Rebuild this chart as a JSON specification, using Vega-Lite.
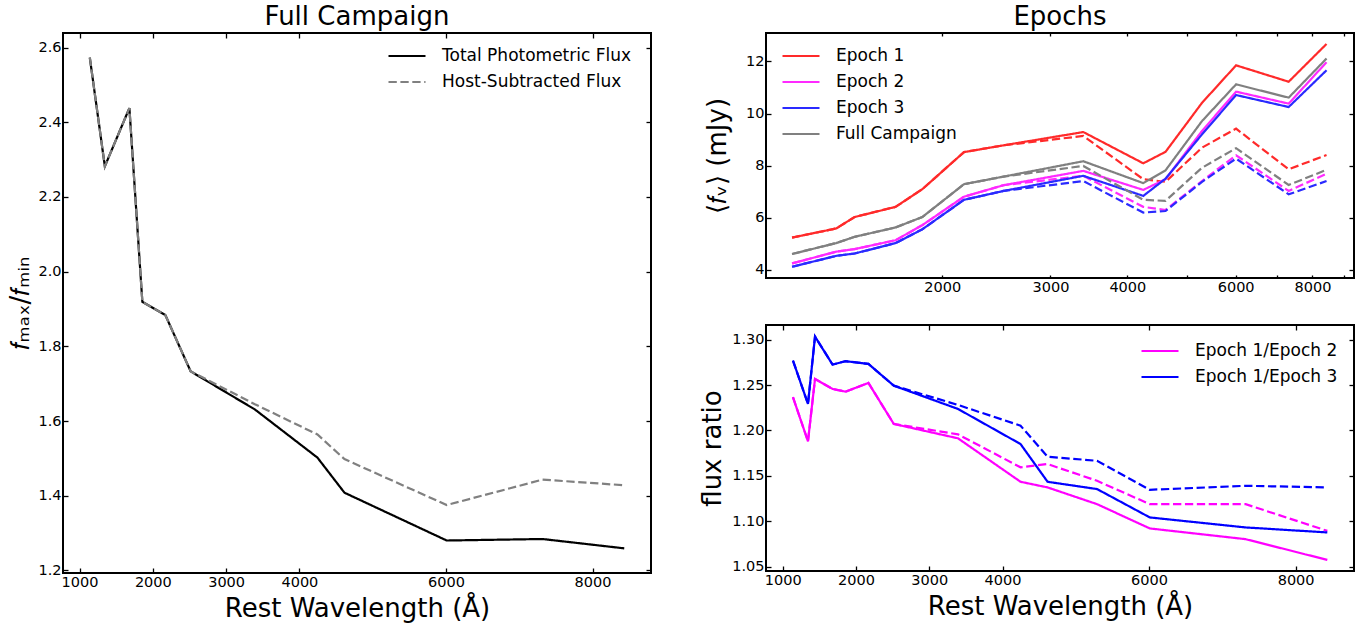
{
  "$schema": "https://vega.github.io/schema/vega-lite/v6.json",
  "padding": {"left": 6, "top": 3, "right": 0, "bottom": 0},
  "config": {
    "font": "DejaVu Sans",
    "view": {"stroke": "black", "strokeWidth": 2},
    "axis": {"domain": false, "grid": false, "ticks": true, "tickColor": "black", "tickWidth": 1.3, "tickSize": -5,
      "labelFont": "DejaVu Sans", "labelFontSize": 14.5, "labelColor": "black", "labelPadding": 7, "labelFlush": false, "labelOverlap": false,
      "titleFont": "DejaVu Sans", "titleFontSize": 26, "titleFontWeight": "normal", "titleColor": "black", "titlePadding": 4},
    "title": {"font": "DejaVu Sans", "fontSize": 26, "fontWeight": "normal", "color": "black", "frame": "group", "offset": 2},
    "legend": {"labelFont": "DejaVu Sans", "labelFontSize": 17, "labelColor": "black", "labelLimit": 0, "symbolSize": 1369, "symbolStrokeWidth": 2.2, "symbolType": "stroke", "labelOffset": 15, "clipHeight": 26, "rowPadding": 0, "padding": 0}
  },
  "resolve": {"scale": {"color": "independent", "strokeDash": "independent"}, "legend": {"color": "independent", "strokeDash": "independent"}},
  "datasets": {
    "full": [
      {"w":1140,"v":2.573,"s":"Total Photometric Flux"},{"w":1345,"v":2.282,"s":"Total Photometric Flux"},{"w":1680,"v":2.438,"s":"Total Photometric Flux"},{"w":1857,"v":1.919,"s":"Total Photometric Flux"},{"w":2170,"v":1.884,"s":"Total Photometric Flux"},{"w":2516,"v":1.733,"s":"Total Photometric Flux"},{"w":3392,"v":1.631,"s":"Total Photometric Flux"},{"w":4246,"v":1.502,"s":"Total Photometric Flux"},{"w":4615,"v":1.408,"s":"Total Photometric Flux"},{"w":6010,"v":1.280,"s":"Total Photometric Flux"},{"w":7318,"v":1.284,"s":"Total Photometric Flux"},{"w":8433,"v":1.259,"s":"Total Photometric Flux"},
      {"w":1140,"v":2.573,"s":"Host-Subtracted Flux"},{"w":1345,"v":2.282,"s":"Host-Subtracted Flux"},{"w":1680,"v":2.438,"s":"Host-Subtracted Flux"},{"w":1857,"v":1.919,"s":"Host-Subtracted Flux"},{"w":2170,"v":1.884,"s":"Host-Subtracted Flux"},{"w":2516,"v":1.733,"s":"Host-Subtracted Flux"},{"w":3392,"v":1.645,"s":"Host-Subtracted Flux"},{"w":4246,"v":1.564,"s":"Host-Subtracted Flux"},{"w":4615,"v":1.498,"s":"Host-Subtracted Flux"},{"w":6010,"v":1.375,"s":"Host-Subtracted Flux"},{"w":7318,"v":1.443,"s":"Host-Subtracted Flux"},{"w":8433,"v":1.428,"s":"Host-Subtracted Flux"}
    ],
    "epochs": [
      {"w":1140,"v":5.24,"s":"Epoch 1","k":"total"},{"w":1345,"v":5.59,"s":"Epoch 1","k":"total"},{"w":1441,"v":6.03,"s":"Epoch 1","k":"total"},{"w":1680,"v":6.42,"s":"Epoch 1","k":"total"},{"w":1857,"v":7.10,"s":"Epoch 1","k":"total"},{"w":2170,"v":8.52,"s":"Epoch 1","k":"total"},{"w":2516,"v":8.78,"s":"Epoch 1","k":"total"},{"w":3392,"v":9.29,"s":"Epoch 1","k":"total"},{"w":4246,"v":8.09,"s":"Epoch 1","k":"total"},{"w":4615,"v":8.53,"s":"Epoch 1","k":"total"},{"w":5290,"v":10.41,"s":"Epoch 1","k":"total"},{"w":6010,"v":11.85,"s":"Epoch 1","k":"total"},{"w":7318,"v":11.22,"s":"Epoch 1","k":"total"},{"w":8433,"v":12.67,"s":"Epoch 1","k":"total"},
      {"w":1140,"v":5.24,"s":"Epoch 1","k":"host"},{"w":1345,"v":5.59,"s":"Epoch 1","k":"host"},{"w":1441,"v":6.03,"s":"Epoch 1","k":"host"},{"w":1680,"v":6.42,"s":"Epoch 1","k":"host"},{"w":1857,"v":7.10,"s":"Epoch 1","k":"host"},{"w":2170,"v":8.52,"s":"Epoch 1","k":"host"},{"w":2516,"v":8.78,"s":"Epoch 1","k":"host"},{"w":3392,"v":9.14,"s":"Epoch 1","k":"host"},{"w":4246,"v":7.48,"s":"Epoch 1","k":"host"},{"w":4615,"v":7.38,"s":"Epoch 1","k":"host"},{"w":5290,"v":8.69,"s":"Epoch 1","k":"host"},{"w":6010,"v":9.42,"s":"Epoch 1","k":"host"},{"w":7318,"v":7.86,"s":"Epoch 1","k":"host"},{"w":8433,"v":8.41,"s":"Epoch 1","k":"host"},
      {"w":1140,"v":4.25,"s":"Epoch 2","k":"total"},{"w":1345,"v":4.70,"s":"Epoch 2","k":"total"},{"w":1441,"v":4.80,"s":"Epoch 2","k":"total"},{"w":1680,"v":5.14,"s":"Epoch 2","k":"total"},{"w":1857,"v":5.72,"s":"Epoch 2","k":"total"},{"w":2170,"v":6.81,"s":"Epoch 2","k":"total"},{"w":2516,"v":7.25,"s":"Epoch 2","k":"total"},{"w":3392,"v":7.80,"s":"Epoch 2","k":"total"},{"w":4246,"v":7.07,"s":"Epoch 2","k":"total"},{"w":4615,"v":7.48,"s":"Epoch 2","k":"total"},{"w":5290,"v":9.33,"s":"Epoch 2","k":"total"},{"w":6010,"v":10.84,"s":"Epoch 2","k":"total"},{"w":7318,"v":10.38,"s":"Epoch 2","k":"total"},{"w":8433,"v":11.97,"s":"Epoch 2","k":"total"},
      {"w":1140,"v":4.25,"s":"Epoch 2","k":"host"},{"w":1345,"v":4.70,"s":"Epoch 2","k":"host"},{"w":1441,"v":4.80,"s":"Epoch 2","k":"host"},{"w":1680,"v":5.14,"s":"Epoch 2","k":"host"},{"w":1857,"v":5.72,"s":"Epoch 2","k":"host"},{"w":2170,"v":6.81,"s":"Epoch 2","k":"host"},{"w":2516,"v":7.25,"s":"Epoch 2","k":"host"},{"w":3392,"v":7.61,"s":"Epoch 2","k":"host"},{"w":4246,"v":6.42,"s":"Epoch 2","k":"host"},{"w":4615,"v":6.30,"s":"Epoch 2","k":"host"},{"w":5290,"v":7.41,"s":"Epoch 2","k":"host"},{"w":6010,"v":8.40,"s":"Epoch 2","k":"host"},{"w":7318,"v":7.03,"s":"Epoch 2","k":"host"},{"w":8433,"v":7.69,"s":"Epoch 2","k":"host"},
      {"w":1140,"v":4.12,"s":"Epoch 3","k":"total"},{"w":1345,"v":4.54,"s":"Epoch 3","k":"total"},{"w":1441,"v":4.63,"s":"Epoch 3","k":"total"},{"w":1680,"v":5.03,"s":"Epoch 3","k":"total"},{"w":1857,"v":5.56,"s":"Epoch 3","k":"total"},{"w":2170,"v":6.69,"s":"Epoch 3","k":"total"},{"w":2516,"v":7.03,"s":"Epoch 3","k":"total"},{"w":3392,"v":7.61,"s":"Epoch 3","k":"total"},{"w":4246,"v":6.84,"s":"Epoch 3","k":"total"},{"w":4615,"v":7.50,"s":"Epoch 3","k":"total"},{"w":5290,"v":9.20,"s":"Epoch 3","k":"total"},{"w":6010,"v":10.71,"s":"Epoch 3","k":"total"},{"w":7318,"v":10.25,"s":"Epoch 3","k":"total"},{"w":8433,"v":11.66,"s":"Epoch 3","k":"total"},
      {"w":1140,"v":4.12,"s":"Epoch 3","k":"host"},{"w":1345,"v":4.54,"s":"Epoch 3","k":"host"},{"w":1441,"v":4.63,"s":"Epoch 3","k":"host"},{"w":1680,"v":5.03,"s":"Epoch 3","k":"host"},{"w":1857,"v":5.56,"s":"Epoch 3","k":"host"},{"w":2170,"v":6.69,"s":"Epoch 3","k":"host"},{"w":2516,"v":7.03,"s":"Epoch 3","k":"host"},{"w":3392,"v":7.41,"s":"Epoch 3","k":"host"},{"w":4246,"v":6.20,"s":"Epoch 3","k":"host"},{"w":4615,"v":6.26,"s":"Epoch 3","k":"host"},{"w":5290,"v":7.38,"s":"Epoch 3","k":"host"},{"w":6010,"v":8.27,"s":"Epoch 3","k":"host"},{"w":7318,"v":6.90,"s":"Epoch 3","k":"host"},{"w":8433,"v":7.41,"s":"Epoch 3","k":"host"},
      {"w":1140,"v":4.61,"s":"Full Campaign","k":"total"},{"w":1345,"v":5.03,"s":"Full Campaign","k":"total"},{"w":1441,"v":5.27,"s":"Full Campaign","k":"total"},{"w":1680,"v":5.63,"s":"Full Campaign","k":"total"},{"w":1857,"v":6.03,"s":"Full Campaign","k":"total"},{"w":2170,"v":7.29,"s":"Full Campaign","k":"total"},{"w":2516,"v":7.58,"s":"Full Campaign","k":"total"},{"w":3392,"v":8.17,"s":"Full Campaign","k":"total"},{"w":4246,"v":7.33,"s":"Full Campaign","k":"total"},{"w":4615,"v":7.82,"s":"Full Campaign","k":"total"},{"w":5290,"v":9.71,"s":"Full Campaign","k":"total"},{"w":6010,"v":11.12,"s":"Full Campaign","k":"total"},{"w":7318,"v":10.61,"s":"Full Campaign","k":"total"},{"w":8433,"v":12.11,"s":"Full Campaign","k":"total"},
      {"w":1140,"v":4.61,"s":"Full Campaign","k":"host"},{"w":1345,"v":5.03,"s":"Full Campaign","k":"host"},{"w":1441,"v":5.27,"s":"Full Campaign","k":"host"},{"w":1680,"v":5.63,"s":"Full Campaign","k":"host"},{"w":1857,"v":6.03,"s":"Full Campaign","k":"host"},{"w":2170,"v":7.29,"s":"Full Campaign","k":"host"},{"w":2516,"v":7.58,"s":"Full Campaign","k":"host"},{"w":3392,"v":7.99,"s":"Full Campaign","k":"host"},{"w":4246,"v":6.69,"s":"Full Campaign","k":"host"},{"w":4615,"v":6.65,"s":"Full Campaign","k":"host"},{"w":5290,"v":7.92,"s":"Full Campaign","k":"host"},{"w":6010,"v":8.67,"s":"Full Campaign","k":"host"},{"w":7318,"v":7.26,"s":"Full Campaign","k":"host"},{"w":8433,"v":7.84,"s":"Full Campaign","k":"host"}
    ],
    "ratios": [
      {"w":1140,"v":1.2366,"s":"Epoch 1/Epoch 2","k":"total"},{"w":1345,"v":1.1881,"s":"Epoch 1/Epoch 2","k":"total"},{"w":1441,"v":1.2567,"s":"Epoch 1/Epoch 2","k":"total"},{"w":1680,"v":1.2457,"s":"Epoch 1/Epoch 2","k":"total"},{"w":1857,"v":1.2427,"s":"Epoch 1/Epoch 2","k":"total"},{"w":2170,"v":1.2523,"s":"Epoch 1/Epoch 2","k":"total"},{"w":2516,"v":1.2072,"s":"Epoch 1/Epoch 2","k":"total"},{"w":3392,"v":1.1914,"s":"Epoch 1/Epoch 2","k":"total"},{"w":4246,"v":1.1436,"s":"Epoch 1/Epoch 2","k":"total"},{"w":4615,"v":1.1374,"s":"Epoch 1/Epoch 2","k":"total"},{"w":5290,"v":1.1190,"s":"Epoch 1/Epoch 2","k":"total"},{"w":6010,"v":1.0923,"s":"Epoch 1/Epoch 2","k":"total"},{"w":7318,"v":1.0805,"s":"Epoch 1/Epoch 2","k":"total"},{"w":8433,"v":1.0577,"s":"Epoch 1/Epoch 2","k":"total"},
      {"w":1140,"v":1.2366,"s":"Epoch 1/Epoch 2","k":"host"},{"w":1345,"v":1.1881,"s":"Epoch 1/Epoch 2","k":"host"},{"w":1441,"v":1.2567,"s":"Epoch 1/Epoch 2","k":"host"},{"w":1680,"v":1.2457,"s":"Epoch 1/Epoch 2","k":"host"},{"w":1857,"v":1.2427,"s":"Epoch 1/Epoch 2","k":"host"},{"w":2170,"v":1.2523,"s":"Epoch 1/Epoch 2","k":"host"},{"w":2516,"v":1.2072,"s":"Epoch 1/Epoch 2","k":"host"},{"w":3392,"v":1.1958,"s":"Epoch 1/Epoch 2","k":"host"},{"w":4246,"v":1.1595,"s":"Epoch 1/Epoch 2","k":"host"},{"w":4615,"v":1.1631,"s":"Epoch 1/Epoch 2","k":"host"},{"w":5290,"v":1.1447,"s":"Epoch 1/Epoch 2","k":"host"},{"w":6010,"v":1.1190,"s":"Epoch 1/Epoch 2","k":"host"},{"w":7318,"v":1.1190,"s":"Epoch 1/Epoch 2","k":"host"},{"w":8433,"v":1.0896,"s":"Epoch 1/Epoch 2","k":"host"},
      {"w":1140,"v":1.2769,"s":"Epoch 1/Epoch 3","k":"total"},{"w":1345,"v":1.2292,"s":"Epoch 1/Epoch 3","k":"total"},{"w":1441,"v":1.3033,"s":"Epoch 1/Epoch 3","k":"total"},{"w":1680,"v":1.2725,"s":"Epoch 1/Epoch 3","k":"total"},{"w":1857,"v":1.2762,"s":"Epoch 1/Epoch 3","k":"total"},{"w":2170,"v":1.2732,"s":"Epoch 1/Epoch 3","k":"total"},{"w":2516,"v":1.2493,"s":"Epoch 1/Epoch 3","k":"total"},{"w":3392,"v":1.2237,"s":"Epoch 1/Epoch 3","k":"total"},{"w":4246,"v":1.1851,"s":"Epoch 1/Epoch 3","k":"total"},{"w":4615,"v":1.1436,"s":"Epoch 1/Epoch 3","k":"total"},{"w":5290,"v":1.1356,"s":"Epoch 1/Epoch 3","k":"total"},{"w":6010,"v":1.1044,"s":"Epoch 1/Epoch 3","k":"total"},{"w":7318,"v":1.0934,"s":"Epoch 1/Epoch 3","k":"total"},{"w":8433,"v":1.0879,"s":"Epoch 1/Epoch 3","k":"total"},
      {"w":1140,"v":1.2769,"s":"Epoch 1/Epoch 3","k":"host"},{"w":1345,"v":1.2292,"s":"Epoch 1/Epoch 3","k":"host"},{"w":1441,"v":1.3033,"s":"Epoch 1/Epoch 3","k":"host"},{"w":1680,"v":1.2725,"s":"Epoch 1/Epoch 3","k":"host"},{"w":1857,"v":1.2762,"s":"Epoch 1/Epoch 3","k":"host"},{"w":2170,"v":1.2732,"s":"Epoch 1/Epoch 3","k":"host"},{"w":2516,"v":1.2493,"s":"Epoch 1/Epoch 3","k":"host"},{"w":3392,"v":1.2281,"s":"Epoch 1/Epoch 3","k":"host"},{"w":4246,"v":1.2053,"s":"Epoch 1/Epoch 3","k":"host"},{"w":4615,"v":1.1711,"s":"Epoch 1/Epoch 3","k":"host"},{"w":5290,"v":1.1667,"s":"Epoch 1/Epoch 3","k":"host"},{"w":6010,"v":1.1348,"s":"Epoch 1/Epoch 3","k":"host"},{"w":7318,"v":1.1392,"s":"Epoch 1/Epoch 3","k":"host"},{"w":8433,"v":1.1374,"s":"Epoch 1/Epoch 3","k":"host"}
    ]
  },
  "spacing": 45,
  "hconcat": [
    {
      "title": "Full Campaign",
      "width": 588, "height": 540,
      "data": {"name": "full"},
      "layer": [
        {
          "mark": {"type": "line", "strokeWidth": 2.2},
          "encoding": {
            "x": {"field": "w", "type": "quantitative", "scale": {"domain": [774, 8798], "nice": false, "zero": false},
              "axis": {"values": [1000, 2000, 3000, 4000, 6000, 8000], "format": "d", "title": "Rest Wavelength (Å)", "titlePadding": 7}},
            "y": {"field": "v", "type": "quantitative", "scale": {"domain": [1.193, 2.639], "nice": false, "zero": false},
              "axis": {"values": [1.2, 1.4, 1.6, 1.8, 2.0, 2.2, 2.4, 2.6], "format": ".1f", "title": "𝑓ₘₐₓ/𝑓ₘᵢₙ"}},
            "color": {"field": "s", "type": "nominal", "scale": {"domain": ["Total Photometric Flux", "Host-Subtracted Flux"], "range": ["#000000", "#808080"]},
              "legend": {"title": null, "orient": "none", "legendX": 324, "legendY": 10}},
            "strokeDash": {"field": "s", "type": "nominal", "scale": {"domain": ["Total Photometric Flux", "Host-Subtracted Flux"], "range": [[1, 0], [8.3, 3.6]]},
              "legend": {"title": null, "orient": "none", "legendX": 324, "legendY": 10}}
          }
        },
        {
          "mark": {"type": "line", "opacity": 0},
          "encoding": {
            "x": {"field": "w", "type": "quantitative", "scale": {"domain": [774, 8798], "nice": false, "zero": false},
              "axis": {"orient": "top", "values": [1000, 2000, 3000, 4000, 6000, 8000], "labels": false, "title": null}},
            "y": {"field": "v", "type": "quantitative", "scale": {"domain": [1.193, 2.639], "nice": false, "zero": false},
              "axis": {"orient": "right", "values": [1.2, 1.4, 1.6, 1.8, 2.0, 2.2, 2.4, 2.6], "labels": false, "title": null}}
          }
        }
      ],
      "resolve": {"axis": {"x": "independent", "y": "independent"}}
    },
    {
      "spacing": 28,
      "resolve": {"scale": {"color": "independent", "strokeDash": "independent"}, "legend": {"color": "independent", "strokeDash": "independent"}},
      "vconcat": [
        {
          "title": "Epochs",
          "width": 588, "height": 245,
          "data": {"name": "epochs"},
          "layer": [
            {
              "mark": {"type": "line", "strokeWidth": 2.2},
              "encoding": {
                "x": {"field": "w", "type": "quantitative", "scale": {"type": "log", "domain": [1034, 9346], "nice": false},
                  "axis": {"values": [2000, 3000, 4000, 5000, 6000, 7000, 8000, 9000], "labelExpr": "datum.value == 5000 || datum.value == 7000 || datum.value == 9000 ? '' : format(datum.value, 'd')", "tickSize": -3, "labelPadding": 5, "title": null}},
                "y": {"field": "v", "type": "quantitative", "scale": {"domain": [3.69, 13.09], "nice": false, "zero": false},
                  "axis": {"values": [4, 6, 8, 10, 12], "format": "d", "title": "⟨𝑓ᵥ⟩ (mJy)", "titlePadding": 15}},
                "color": {"field": "s", "type": "nominal", "scale": {"domain": ["Epoch 1", "Epoch 2", "Epoch 3", "Full Campaign"], "range": ["#ff2a2a", "#ff2aff", "#2a2aff", "#808080"]},
                  "legend": {"title": null, "orient": "none", "legendX": 15, "legendY": 10}},
                "strokeDash": {"field": "k", "type": "nominal", "scale": {"domain": ["total", "host"], "range": [[1, 0], [8.3, 3.6]]}, "legend": null}
              }
            },
            {
              "mark": {"type": "line", "opacity": 0},
              "encoding": {
                "x": {"field": "w", "type": "quantitative", "scale": {"type": "log", "domain": [1034, 9346], "nice": false},
                  "axis": {"orient": "top", "values": [2000, 3000, 4000, 5000, 6000, 7000, 8000, 9000], "tickSize": -3, "labels": false, "title": null}},
                "y": {"field": "v", "type": "quantitative", "scale": {"domain": [3.69, 13.09], "nice": false, "zero": false},
                  "axis": {"orient": "right", "values": [4, 6, 8, 10, 12], "labels": false, "title": null}}
              }
            }
          ],
          "resolve": {"axis": {"x": "independent", "y": "independent"}}
        },
        {
          "width": 588, "height": 246,
          "data": {"name": "ratios"},
          "layer": [
            {
              "mark": {"type": "line", "strokeWidth": 2.2},
              "encoding": {
                "x": {"field": "w", "type": "quantitative", "scale": {"domain": [772, 8797], "nice": false, "zero": false},
                  "axis": {"values": [1000, 2000, 3000, 4000, 6000, 8000], "format": "d", "title": "Rest Wavelength (Å)", "titlePadding": 7}},
                "y": {"field": "v", "type": "quantitative", "scale": {"domain": [1.0455, 1.316], "nice": false, "zero": false},
                  "axis": {"values": [1.05, 1.10, 1.15, 1.20, 1.25, 1.30], "format": ".2f", "title": "flux ratio", "titlePadding": 6}},
                "color": {"field": "s", "type": "nominal", "scale": {"domain": ["Epoch 1/Epoch 2", "Epoch 1/Epoch 3"], "range": ["#ff00ff", "#0000ff"]},
                  "legend": {"title": null, "orient": "none", "legendX": 374, "legendY": 13}},
                "strokeDash": {"field": "k", "type": "nominal", "scale": {"domain": ["total", "host"], "range": [[1, 0], [8.3, 3.6]]}, "legend": null}
              }
            },
            {
              "mark": {"type": "line", "opacity": 0},
              "encoding": {
                "x": {"field": "w", "type": "quantitative", "scale": {"domain": [772, 8797], "nice": false, "zero": false},
                  "axis": {"orient": "top", "values": [1000, 2000, 3000, 4000, 6000, 8000], "labels": false, "title": null}},
                "y": {"field": "v", "type": "quantitative", "scale": {"domain": [1.0455, 1.316], "nice": false, "zero": false},
                  "axis": {"orient": "right", "values": [1.05, 1.10, 1.15, 1.20, 1.25, 1.30], "labels": false, "title": null}}
              }
            }
          ],
          "resolve": {"axis": {"x": "independent", "y": "independent"}}
        }
      ]
    }
  ]
}
